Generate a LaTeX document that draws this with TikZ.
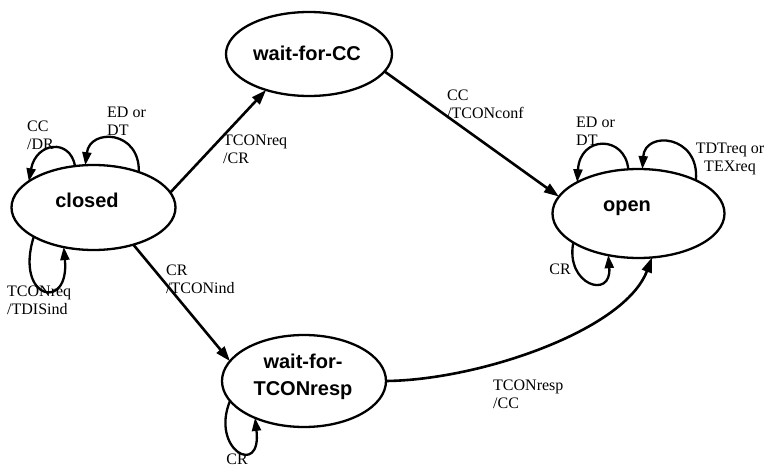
\documentclass[tikz,border=0pt]{standalone}
\usepackage{fontspec}
\setmainfont{Liberation Serif}
\newfontfamily\statefont{Liberation Sans}
\usetikzlibrary{arrows.meta,shapes.geometric}
\begin{document}
\begin{tikzpicture}[x=1pt,y=-1pt,
  state/.style 2 args={draw,ellipse,inner sep=0pt,outer sep=0pt,line width=2.3pt,minimum width=#1,minimum height=#2},
  stxt/.style={font=\statefont\bfseries\fontsize{20}{27}\selectfont,inner sep=0pt,align=center},
  lbl/.style={font=\fontsize{16}{18}\selectfont,inner sep=0pt,align=left},
  trans/.style={line width=2.6pt,-{Triangle[length=15pt,width=10pt]}},
  selfloop/.style={line width=2.3pt,-{Triangle[length=13pt,width=9pt]}}]
\useasboundingbox (0,0) rectangle (766,468);
% states
\node[state={164pt}{85pt}] (closed) at (93.5,207.5) {};
\node[state={166pt}{84pt}] (waitcc) at (309,54) {};
\node[state={172pt}{89pt}] (open) at (638.5,213.5) {};
\node[state={164pt}{92pt}] (waitt) at (304,381) {};
\node[stxt] (closedt) at (87,200) {closed};
\node[stxt] (waitcct) at (307,53) {wait-for-CC};
\node[stxt] (opent) at (627,208) {open};
\node[stxt] (waittt) at (303,377) {wait-for-\\TCONresp};
% transitions
\draw[trans] (closed.11.5) -- (waitcc.-140.4);
\draw[trans] (waitcc.-13.3) -- (open.168.8);
\draw[trans] (closed.-43.3) -- (waitt.165.6);
\draw[trans] (waitt.0) .. controls (480,380) and (625,330) .. (open.-73.5);
% self loops
\draw[selfloop] (closed.114) .. controls (70,138) and (36,142) .. (closed.158.7);
\draw[selfloop] (closed.38.7) .. controls (140,130) and (90,128) .. (closed.101.4);
\draw[selfloop] (closed.-154.6) .. controls (14,300) and (70,312) .. (closed.-127.7);
\draw[selfloop] (waitt.-165) .. controls (210,450) and (262,478) .. (waitt.-143);
\draw[selfloop] (open.103.4) .. controls (625,135) and (580,135) .. (open.153.2);
\draw[selfloop] (open.30.7) .. controls (700,135) and (645,130) .. (open.85.5);
\draw[selfloop] (open.-156.3) .. controls (565,285) and (612,300) .. (open.-126.2);
% labels
\node[lbl,anchor=west] (l1) at (223,149) {TCONreq\\/CR};
\node[lbl,anchor=west] (l2) at (447,104) {CC\\/TCONconf};
\node[lbl,anchor=west] (l3) at (166,279.5) {CR\\/TCONind};
\node[lbl,anchor=west] (l4) at (493,394) {TCONresp\\/CC};
\node[lbl,anchor=west] (l5) at (27,135) {CC\\/DR};
\node[lbl,anchor=west] (l6) at (107,121) {ED or\\DT};
\node[lbl,anchor=west] (l7) at (7,300.5) {TCONreq\\/TDISind};
\node[lbl] (l8) at (237,459) {CR};
\node[lbl,anchor=west] (l9) at (576,131.5) {ED or\\DT};
\node[lbl,align=center] (l10) at (730,159) {TDTreq or\\TEXreq};
\node[lbl,anchor=east] (l11) at (571,269) {CR};
\end{tikzpicture}
\end{document}
